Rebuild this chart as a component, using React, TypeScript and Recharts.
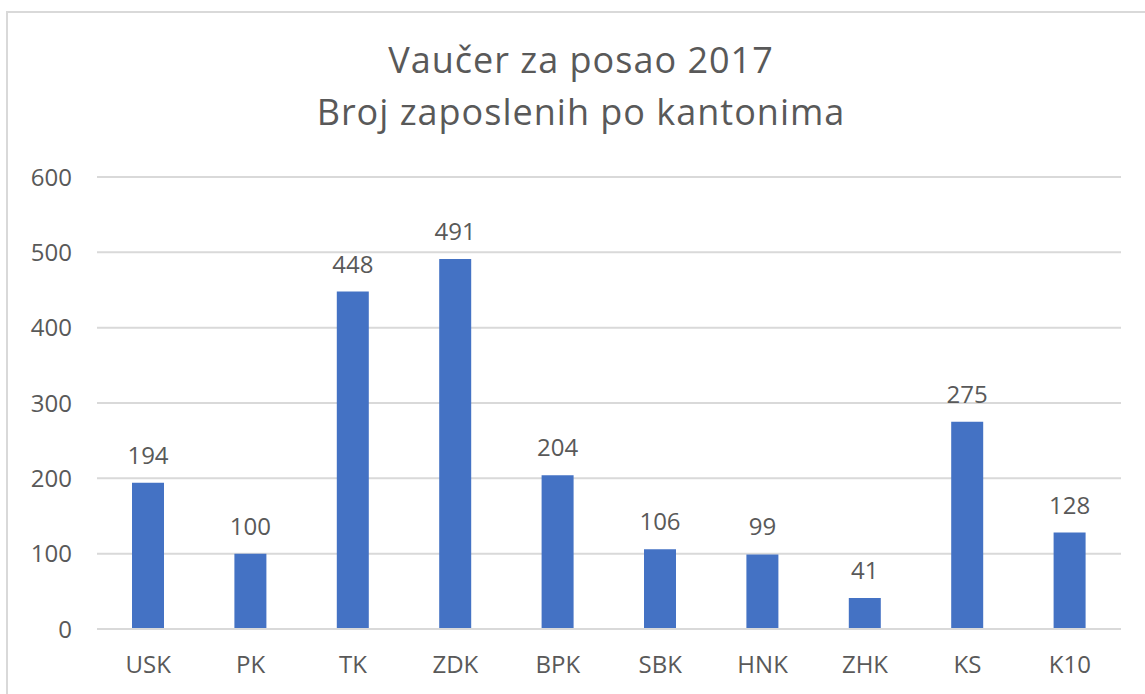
import React from "react";
import { BarChart, Bar, XAxis, YAxis, CartesianGrid, LabelList } from "recharts";

const categories = ["USK", "PK", "TK", "ZDK", "BPK", "SBK", "HNK", "ZHK", "KS", "K10"];
const employees = [194, 100, 448, 491, 204, 106, 99, 41, 275, 128];
const yTicks = [0, 100, 200, 300, 400, 500, 600];
const titleLines = ["Vaučer za posao 2017", "Broj zaposlenih po kantonima"];

const data = categories.map((name, i) => ({ name, value: employees[i] }));

const FONT = "'Open Sans', 'Noto Sans', sans-serif";
const TEXT = "#595959";
const TICK_SIZE = 24;

export default function App() {
  return (
    <div
      style={{
        position: "absolute",
        left: 0,
        top: 0,
        width: 1145,
        height: 694,
        overflow: "hidden",
        background: "#fff",
        fontFamily: FONT,
      }}
    >
      <div
        style={{
          position: "absolute",
          left: 6,
          top: 11,
          width: 1160,
          height: 720,
          border: "2px solid #d9d9d9",
          boxSizing: "border-box",
        }}
      />
      <div
        style={{
          position: "absolute",
          left: 0,
          top: 34,
          width: 1162,
          textAlign: "center",
          color: TEXT,
          fontSize: 36,
          letterSpacing: 1,
          lineHeight: "52px",
        }}
      >
        {titleLines.map((t) => (
          <div key={t}>{t}</div>
        ))}
      </div>
      <div style={{ position: "absolute", left: 0, top: 0 }}>
        <BarChart
          width={1145}
          height={694}
          data={data}
          margin={{ top: 177, right: 24, bottom: 35, left: 0 }}
          barCategoryGap={0}
        >
          <CartesianGrid vertical={false} stroke="#d9d9d9" strokeWidth={2} />
          <XAxis
            dataKey="name"
            axisLine={{ stroke: "#d9d9d9", strokeWidth: 2 }}
            tickLine={false}
            tickMargin={21}
            tick={{ fill: TEXT, fontSize: TICK_SIZE, fontFamily: FONT }}
            interval={0}
          />
          <YAxis
            width={97}
            domain={[0, 600]}
            ticks={yTicks}
            axisLine={false}
            tickLine={false}
            tickMargin={19}
            tick={{ fill: TEXT, fontSize: TICK_SIZE, fontFamily: FONT }}
            interval={0}
          />
          <Bar dataKey="value" fill="#4472c4" barSize={32} isAnimationActive={false}>
            <LabelList
              dataKey="value"
              position="top"
              offset={19}
              fill={TEXT}
              fontSize={TICK_SIZE}
              fontFamily={FONT}
            />
          </Bar>
        </BarChart>
      </div>
    </div>
  );
}
